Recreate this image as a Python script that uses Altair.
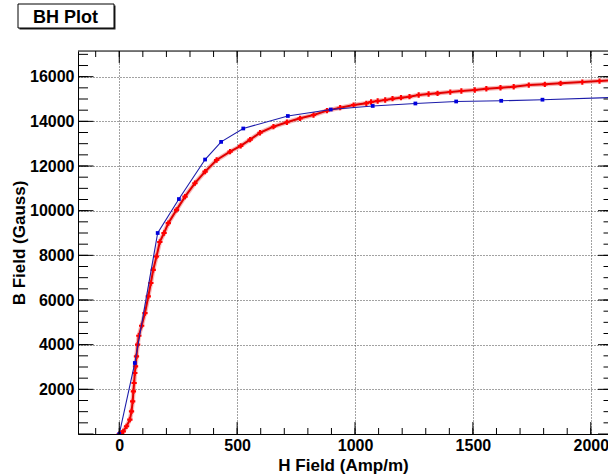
import altair as alt
import pandas as pd

# ---- data ----
blue_H = [0, 66, 163, 253, 364, 432, 526, 715, 897, 1075, 1256, 1429, 1620, 1795, 2150]
blue_B = [0, 3180, 9000, 10520, 12290, 13080, 13680, 14240, 14530, 14690, 14800, 14890, 14920, 14970, 15090]

red_H = [0, 8, 17, 31, 45, 52, 57, 60, 63, 66, 69, 73, 78, 83, 95, 109, 123, 134, 144, 158,
         172, 190, 208, 243, 279, 321, 364, 413, 470, 515, 555, 597, 654, 711, 767, 824, 881,
         937, 994, 1048, 1068, 1096, 1128, 1159, 1195, 1231, 1270, 1312, 1350, 1404, 1451,
         1508, 1557, 1617, 1673, 1737, 1805, 1872, 1964, 2037, 2110]
red_B = [0, 40, 120, 345, 645, 1015, 1460, 1910, 2285, 2730, 3030, 3475, 4000, 4400, 4850,
         5415, 6160, 6760, 7350, 7950, 8600, 9000, 9440, 10036, 10630, 11230, 11750, 12270,
         12645, 12900, 13180, 13490, 13760, 13960, 14135, 14285, 14480, 14610, 14730, 14808,
         14866, 14911, 14955, 15013, 15058, 15103, 15179, 15224, 15255, 15313, 15358, 15403,
         15460, 15505, 15550, 15626, 15657, 15702, 15760, 15805, 15850]

x_labels = [0, 500, 1000, 1500, 2000]
y_labels = [2000, 4000, 6000, 8000, 10000, 12000, 14000, 16000]
x_minor = list(range(-100, 2001, 100))
y_minor = list(range(500, 17001, 500))

title_text = "BH Plot"
x_title = "H Field (Amp/m)"
y_title = "B Field (Gauss)"

# ---- layout ----
W, H = 530, 383
FONT = "Liberation Sans"

xscale = alt.Scale(domain=[-175, 2073], nice=False, zero=False)
yscale = alt.Scale(domain=[0, 17150], nice=False, zero=False)

xaxis = alt.Axis(values=x_labels, grid=True, gridColor="#444", gridDash=[1, 2], gridWidth=1,
                 ticks=False, domain=True, domainColor="black", domainWidth=1,
                 labelFont=FONT, labelFontSize=16, labelFontWeight="bold", labelColor="black",
                 labelPadding=3, labelFlush=False, labelOverlap=False, format="d",
                 title=x_title, titleFont=FONT, titleFontSize=17, titleFontWeight="bold",
                 titleColor="black", titleY=36, titleBaseline="alphabetic")
yaxis = alt.Axis(values=y_labels, grid=True, gridColor="#444", gridDash=[1, 2], gridWidth=1,
                 ticks=False, domain=True, domainColor="black", domainWidth=1,
                 labelFont=FONT, labelFontSize=16, labelFontWeight="bold", labelColor="black",
                 labelPadding=4, labelFlush=False, labelOverlap=False, format="d",
                 title=y_title, titleFont=FONT, titleFontSize=17, titleFontWeight="bold",
                 titleColor="black", titleAngle=270, titleX=-54, titleY=H / 2,
                 titleBaseline="alphabetic", titleAlign="center")

blue_df = pd.DataFrame({"H": blue_H, "B": blue_B})
red_df = pd.DataFrame({"H": red_H, "B": red_B})

X = alt.X("H:Q", scale=xscale, axis=xaxis)
Y = alt.Y("B:Q", scale=yscale, axis=yaxis)

red_halo = alt.Chart(red_df).mark_line(color="#f06060", strokeWidth=4.5, opacity=0.45, clip=True).encode(x=X, y=Y)
red_line = alt.Chart(red_df).mark_line(color="#e00000", strokeWidth=2, clip=True).encode(x=X, y=Y)
red_pts = alt.Chart(red_df).mark_point(shape="cross", filled=True, size=28, color="#ff0000",
                                       opacity=1, clip=True).encode(x=X, y=Y)
blue_line = alt.Chart(blue_df).mark_line(color="#1c1caa", strokeWidth=1.1, clip=True).encode(x=X, y=Y)
blue_pts = alt.Chart(blue_df).mark_point(shape="square", filled=True, size=14, color="#0000dd",
                                         opacity=1, clip=True).encode(x=X, y=Y)

# ---- ROOT style inward ticks ----
xmaj = pd.DataFrame({"v": x_labels})
xmin = pd.DataFrame({"v": x_minor})
ymaj = pd.DataFrame({"v": [0] + y_labels})
ymin = pd.DataFrame({"v": y_minor})
XT = alt.X("v:Q", scale=xscale, axis=xaxis)
YT = alt.Y("v:Q", scale=yscale, axis=yaxis)
tick = dict(color="black", strokeWidth=1)

ticks = [
    alt.Chart(xmaj).mark_rule(**tick).encode(x=XT, y=alt.value(H), y2=alt.value(H - 12)),
    alt.Chart(xmin).mark_rule(**tick).encode(x=XT, y=alt.value(H), y2=alt.value(H - 6)),
    alt.Chart(xmaj).mark_rule(**tick).encode(x=XT, y=alt.value(0), y2=alt.value(12)),
    alt.Chart(xmin).mark_rule(**tick).encode(x=XT, y=alt.value(0), y2=alt.value(6)),
    alt.Chart(ymaj).mark_rule(**tick).encode(y=YT, x=alt.value(0), x2=alt.value(15.5)),
    alt.Chart(ymin).mark_rule(**tick).encode(y=YT, x=alt.value(0), x2=alt.value(10)),
    alt.Chart(ymaj).mark_rule(**tick).encode(y=YT, x=alt.value(W + 5.5), x2=alt.value(W + 5.5 - 15.5)),
    alt.Chart(ymin).mark_rule(**tick).encode(y=YT, x=alt.value(W + 5.5), x2=alt.value(W + 5.5 - 10)),
]

one = pd.DataFrame({"t": [title_text]})
top_frame = alt.Chart(one).mark_rule(color="black", strokeWidth=1).encode(
    x=alt.value(0), x2=alt.value(W + 10), y=alt.value(0))

shadow = alt.Chart(one).mark_rect(color="#222").encode(
    x=alt.value(-58.5), x2=alt.value(37.5), y=alt.value(-45.5), y2=alt.value(-21.5))
box = alt.Chart(one).mark_rect(fill="white", stroke="black", strokeWidth=1).encode(
    x=alt.value(-60), x2=alt.value(36), y=alt.value(-47), y2=alt.value(-23))
title = alt.Chart(one).mark_text(font=FONT, fontSize=18, fontWeight="bold", color="black",
                                 align="center", baseline="alphabetic").encode(
    text="t:N", x=alt.value(-12.5), y=alt.value(-28))

chart = alt.layer(
    red_halo, red_line, red_pts, blue_line, blue_pts, *ticks, top_frame, shadow, box, title
).properties(
    width=W, height=H,
    padding={"left": 78, "top": 51, "right": 0, "bottom": 42},
    autosize=alt.AutoSizeParams(type="none"),
).configure_view(stroke=None).configure(background="white")

chart.save("out.html", embed_options={"renderer": "svg", "actions": False})
